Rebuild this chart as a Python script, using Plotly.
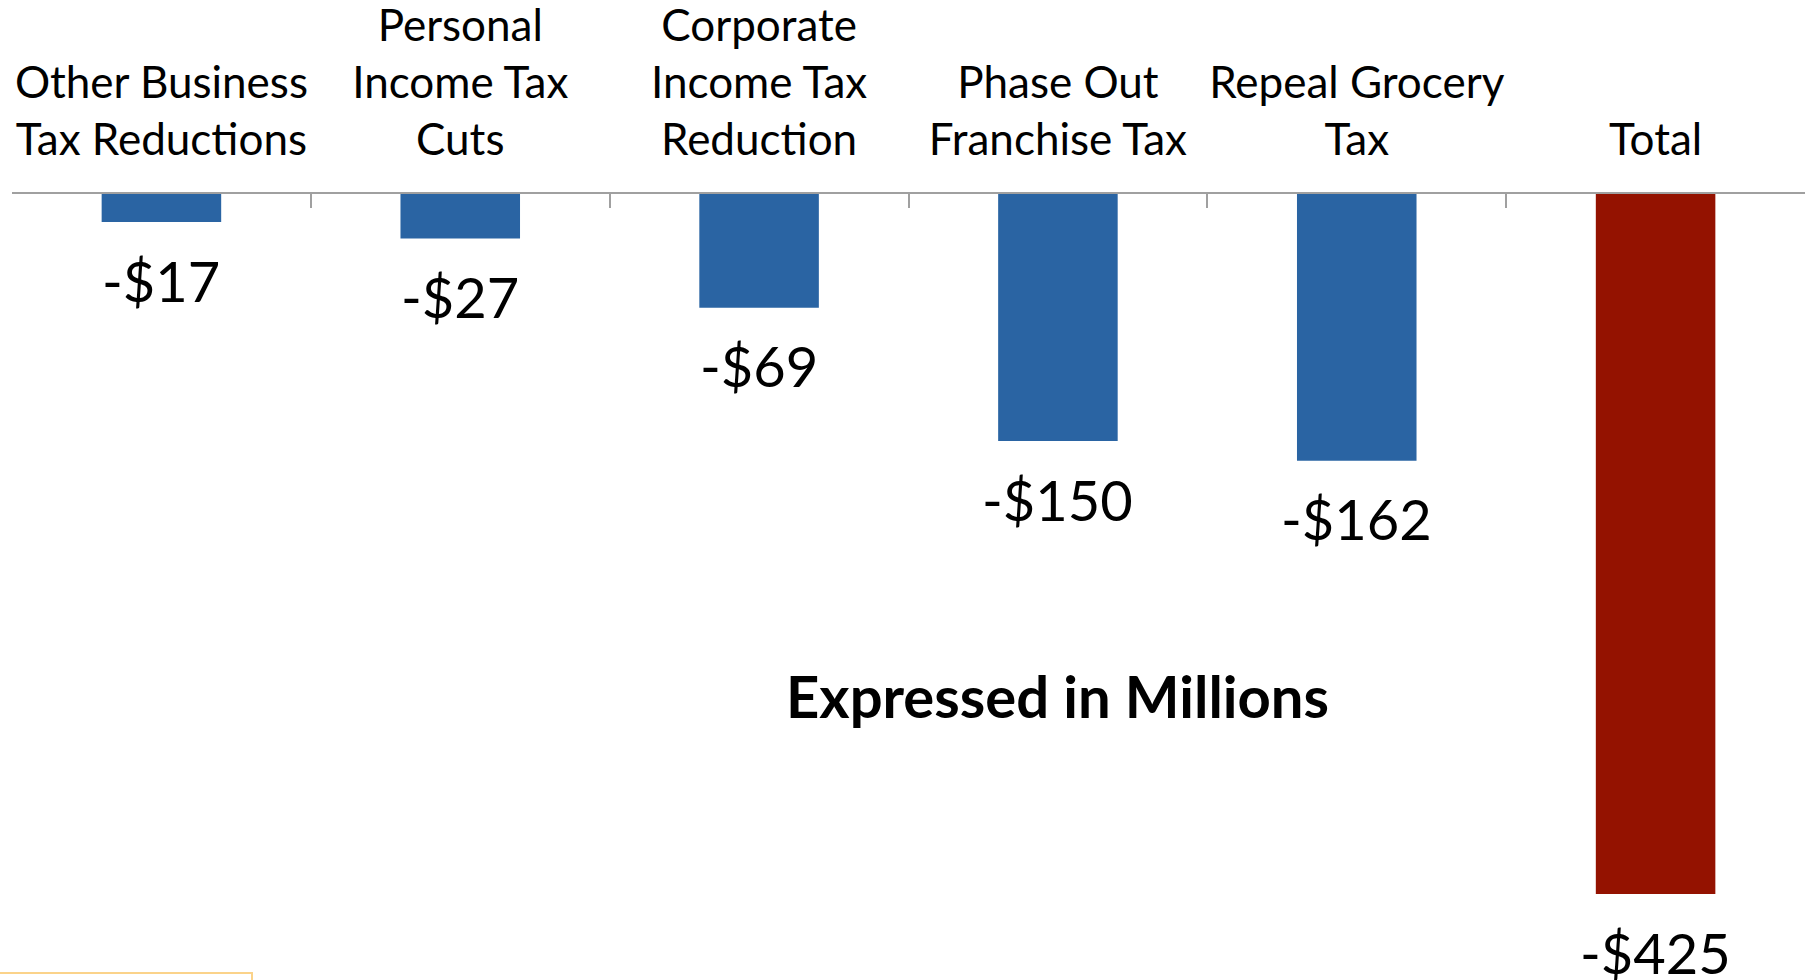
import plotly.graph_objects as go

# Estimated revenue impact of tax proposals (millions of dollars)
categories = [
    "Other Business<br>Tax Reductions",
    "Personal<br>Income Tax<br>Cuts",
    "Corporate<br>Income Tax<br>Reduction",
    "Phase Out<br>Franchise Tax",
    "Repeal Grocery<br>Tax",
    "Total",
]
values = [-17, -27, -69, -150, -162, -425]
value_labels = ["-$17", "-$27", "-$69", "-$150", "-$162", "-$425"]

BLUE = "#2A64A3"
RED = "#941200"
bar_colors = [BLUE] * 5 + [RED]

FONT = "Lato"

fig = go.Figure()
fig.add_trace(
    go.Bar(
        x=categories,
        y=values,
        marker=dict(color=bar_colors, line=dict(width=0)),
        hoverinfo="skip",
    )
)

# value labels below each bar
for cat, val, lab in zip(categories, values, value_labels):
    fig.add_annotation(
        x=cat,
        y=val,
        text=lab,
        showarrow=False,
        yanchor="middle",
        yshift=-58,
        font=dict(family=FONT, size=56, color="#000000"),
    )

fig.add_annotation(
    xref="paper",
    yref="paper",
    x=0.583,
    y=0.362,
    text="<b>Expressed in Millions</b>",
    showarrow=False,
    font=dict(family=FONT, size=58, color="#000000"),
)

# faint outline of a text box at the lower-left edge
fig.add_shape(
    type="rect",
    xref="paper",
    yref="paper",
    x0=-0.02,
    x1=(252 - 12) / (1805 - 12),
    y0=-0.05,
    y1=(980 - 973) / (980 - 194),
    line=dict(color="#FBD38A", width=2),
    fillcolor="rgba(0,0,0,0)",
)

fig.update_layout(
    width=1814,
    height=980,
    margin=dict(l=12, r=9, t=194, b=0, autoexpand=False),
    paper_bgcolor="#FFFFFF",
    plot_bgcolor="#FFFFFF",
    showlegend=False,
    bargap=0.6,
    font=dict(family=FONT, color="#000000"),
)

fig.update_xaxes(
    side="top",
    showline=True,
    linecolor="#A0A0A0",
    linewidth=2,
    ticks="inside",
    tickson="boundaries",
    ticklen=14,
    tickwidth=2,
    tickcolor="#A0A0A0",
    showgrid=False,
    tickangle=0,
    automargin=False,
    tickfont=dict(family=FONT, size=44, color="#000000"),
    ticklabelstandoff=19,
    fixedrange=True,
)

fig.update_yaxes(
    range=[-477.2, 0],
    visible=False,
    showgrid=False,
    zeroline=False,
    fixedrange=True,
)

fig.write_html("out.html", config={"displayModeBar": False})
